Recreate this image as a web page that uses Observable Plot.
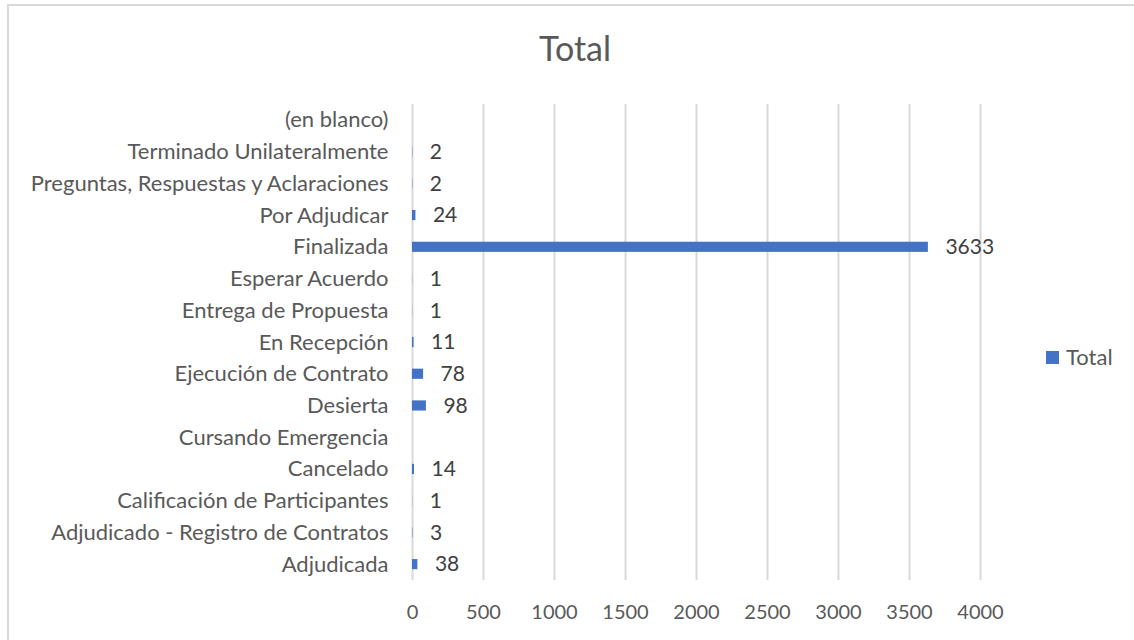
<!DOCTYPE html>
<html>
<head>
<meta charset="utf-8">
<script src="https://cdn.jsdelivr.net/npm/d3@7"></script>
<script src="https://cdn.jsdelivr.net/npm/@observablehq/plot@0.6"></script>
<style>
  html, body { margin: 0; padding: 0; background: #fff; }
  #wrap { position: relative; width: 1134px; height: 640px; overflow: hidden; font-family: Lato, "Open Sans", sans-serif; }
  #frame { position: absolute; left: 7px; top: 4px; width: 1300px; height: 800px; border: 2px solid #d9d9d9; box-sizing: border-box; }
  #title { position: absolute; left: 0; top: 28px; width: 1150px; text-align: center; font-size: 34px; line-height: 40px; color: #595959; }
  #chart { position: absolute; left: 0; top: 0; }
  #legend { position: absolute; left: 1046px; top: 345px; display: flex; align-items: center; font-size: 22px; color: #595959; line-height: 24px; }
  #legend .sw { width: 13px; height: 13px; background: #4472C4; margin-right: 7px; }
</style>
</head>
<body>
<div id="wrap">
  <div id="frame"></div>
  <div id="chart"></div>
  <div id="title">Total</div>
  <div id="legend"><div class="sw"></div><span>Total</span></div>
</div>
<script>
// Categories, top to bottom as shown
const categories = [
  "(en blanco)",
  "Terminado Unilateralmente",
  "Preguntas, Respuestas y Aclaraciones",
  "Por Adjudicar",
  "Finalizada",
  "Esperar Acuerdo",
  "Entrega de Propuesta",
  "En Recepción",
  "Ejecución de Contrato",
  "Desierta",
  "Cursando Emergencia",
  "Cancelado",
  "Calificación de Participantes",
  "Adjudicado - Registro de Contratos",
  "Adjudicada"
];
const totals = [null, 2, 2, 24, 3633, 1, 1, 11, 78, 98, null, 14, 1, 3, 38];
const xTicks = [0, 500, 1000, 1500, 2000, 2500, 3000, 3500, 4000];

const data = categories.map((c, i) => ({ category: c, value: totals[i] }));
const withValue = data.filter(d => d.value != null);

const chart = Plot.plot({
  width: 1134,
  height: 640,
  marginLeft: 412,
  marginRight: 154,
  marginTop: 104,
  marginBottom: 60,
  style: { fontFamily: "Lato, 'Open Sans', sans-serif", fontSize: "20px", color: "#595959", background: "transparent" },
  x: { domain: [0, 4000], ticks: xTicks, label: null },
  y: { domain: categories, paddingInner: 0.68, paddingOuter: 0.34, round: false, label: null },
  marks: [
    Plot.ruleX(xTicks, { stroke: "#d9d9d9", strokeWidth: 2 }),
    Plot.barX(withValue, { x: "value", y: "category", fill: "#4472C4" }),
    Plot.text(withValue, { x: "value", y: "category", text: d => String(d.value), textAnchor: "start", dx: 17, fill: "#404040", fontSize: 21 }),
    Plot.axisX({ ticks: xTicks, tickFormat: d => String(d), tickSize: 0, tickPadding: 24, fontSize: 20, fill: "#595959", label: null }),
    Plot.axisY({ tickSize: 0, tickPadding: 24, fontSize: 22, fill: "#595959", label: null })
  ]
});
document.getElementById("chart").appendChild(chart);
</script>
</body>
</html>
